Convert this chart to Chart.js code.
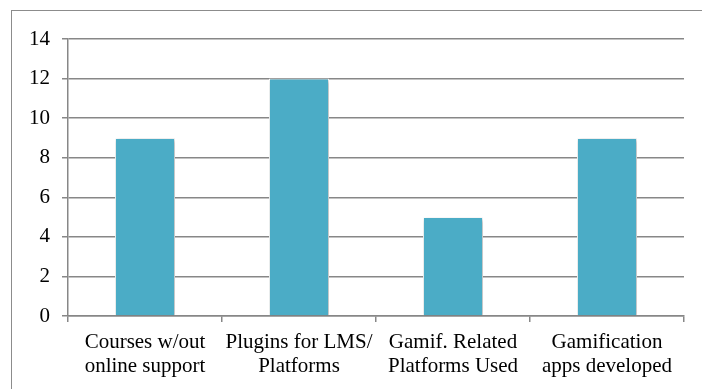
<!DOCTYPE html>
<html>
<head>
<meta charset="utf-8">
<script src="https://cdn.jsdelivr.net/npm/chart.js@4.4.1/dist/chart.umd.min.js"></script>
<style>
  html, body { margin: 0; padding: 0; background: #fff; }
  #wrap { width: 702px; height: 389px; position: relative; }
</style>
</head>
<body>
<div id="wrap"><canvas id="c" width="702" height="389"></canvas></div>
<script>
const categories = [
  ["Courses w/out", "online support"],
  ["Plugins for LMS/", "Platforms"],
  ["Gamif. Related", "Platforms Used"],
  ["Gamification", "apps developed"]
];
const counts = [9, 12, 5, 9];

const GRID = '#878787';
Chart.defaults.font.family = "'Liberation Serif', 'Times New Roman', serif";
Chart.defaults.font.size = 21;
Chart.defaults.color = '#000';

// Frame around the chart (only top and left edges fall inside the canvas)
const framePlugin = {
  id: 'frame',
  beforeDraw(chart) {
    const ctx = chart.ctx;
    ctx.save();
    ctx.strokeStyle = '#8c8c8c';
    ctx.lineWidth = 1;
    ctx.strokeRect(11.5, 10.5, 900, 900);
    ctx.restore();
  }
};

// Soft drop shadow under the bars
const shadowPlugin = {
  id: 'barShadow',
  beforeDatasetsDraw(chart) {
    const ctx = chart.ctx;
    ctx.save();
    ctx.shadowColor = 'rgba(0,0,0,0.28)';
    ctx.shadowBlur = 4;
    ctx.shadowOffsetX = 1.5;
    ctx.shadowOffsetY = 1.5;
  },
  afterDatasetsDraw(chart) {
    chart.ctx.restore();
  }
};

new Chart(document.getElementById('c'), {
  type: 'bar',
  data: {
    labels: categories,
    datasets: [{
      data: counts,
      backgroundColor: '#4BACC6',
      borderColor: '#ffffff',
      borderWidth: 1,
      categoryPercentage: 1,
      barPercentage: 0.39
    }]
  },
  options: {
    responsive: false,
    animation: false,
    devicePixelRatio: 1,
    layout: { padding: { left: 0, top: 39, right: 18, bottom: 0 } },
    plugins: {
      legend: { display: false },
      tooltip: { enabled: false }
    },
    scales: {
      x: {
        grid: {
          offset: true,
          drawOnChartArea: false,
          drawTicks: true,
          tickLength: 6,
          color: GRID,
          lineWidth: 1.5
        },
        border: { display: true, color: GRID, width: 1.5 },
        ticks: {
          maxRotation: 0,
          autoSkip: false,
          padding: 9,
          font: { size: 21, lineHeight: 1.13 }
        },
        afterFit(scale) { scale.height = 73; }
      },
      y: {
        min: 0,
        max: 14,
        ticks: {
          stepSize: 2,
          padding: 12,
          font: { size: 21 }
        },
        grid: {
          color: GRID,
          lineWidth: 1.5,
          drawTicks: true,
          tickLength: 6
        },
        border: { display: true, color: GRID, width: 1.5 },
        afterFit(scale) { scale.width = 68; }
      }
    }
  },
  plugins: [framePlugin, shadowPlugin]
});
</script>
</body>
</html>
